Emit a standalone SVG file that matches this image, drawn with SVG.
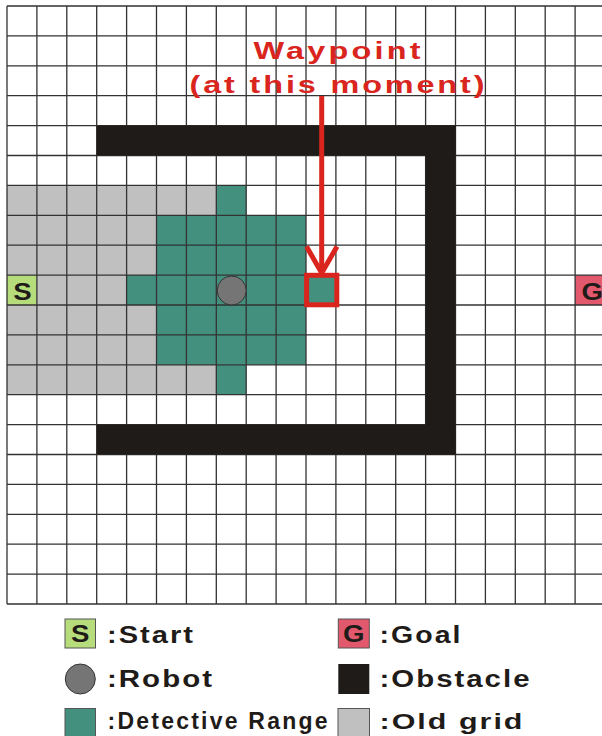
<svg xmlns="http://www.w3.org/2000/svg" width="602" height="736" viewBox="0 0 602 736">
<defs>
<style>
.gl{stroke:#333;stroke-width:1.3;fill:none}
.teal{fill:#43907f}
.old{fill:#c0c0c0}
.obs{fill:#1f1b18}
.start{fill:#b6dc7b}
.goal{fill:#e2586d}
.lbl{font-family:"Liberation Sans",Arial,sans-serif;font-weight:bold;font-size:23px;fill:#1f1b18}
.red{font-family:"Liberation Sans",Arial,sans-serif;font-weight:bold;font-size:24px;fill:#d9251d}
.lbox{stroke:#555;stroke-width:1}
</style>
</defs>
<rect x="0" y="0" width="602" height="736" fill="#fff"/>
<g id="old-grid">
<rect class="old" x="7" y="185.4" width="209.3" height="209.3"/>
</g>
<g id="detective-range">
<rect class="teal" x="216.3" y="185.4" width="29.9" height="29.9"/>
<rect class="teal" x="156.5" y="215.3" width="149.5" height="59.8"/>
<rect class="teal" x="126.6" y="275.1" width="209.3" height="29.9"/>
<rect class="teal" x="156.5" y="305" width="149.5" height="59.8"/>
<rect class="teal" x="216.3" y="364.8" width="29.9" height="29.9"/>
</g>
<g id="start">
<rect class="start" x="7" y="275.1" width="29.9" height="29.9"/>
</g>
<g id="goal">
<rect class="goal" x="575.1" y="275.1" width="30" height="29.9"/>
</g>
<g id="grid-lines">
<path class="gl" d="M7 6V604M36.9 6V604M66.8 6V604M96.7 6V604M126.6 6V604M156.5 6V604M186.4 6V604M216.3 6V604M246.2 6V604M276.1 6V604M306 6V604M335.9 6V604M365.8 6V604M395.7 6V604M425.6 6V604M455.5 6V604M485.4 6V604M515.3 6V604M545.2 6V604M575.1 6V604"/>
<path class="gl" d="M7 6H602M7 35.9H602M7 65.8H602M7 95.7H602M7 125.6H602M7 155.5H602M7 185.4H602M7 215.3H602M7 245.2H602M7 275.1H602M7 305H602M7 334.9H602M7 364.8H602M7 394.7H602M7 424.6H602M7 454.5H602M7 484.4H602M7 514.3H602M7 544.2H602M7 574.1H602M7 604H602"/>
</g>
<g id="start-label"><text class="lbl" transform="translate(22.5,300) scale(1.2,1)" text-anchor="middle">S</text></g>
<g id="goal-label"><text class="lbl" transform="translate(581.5,300) scale(1.2,1)">G</text></g>
<g id="obstacle">
<rect class="obs" x="96.7" y="125.6" width="358.8" height="29.9"/>
<rect class="obs" x="425.6" y="125.6" width="29.9" height="328.9"/>
<rect class="obs" x="96.7" y="424.6" width="358.8" height="29.9"/>
</g>
<g id="robot">
<circle cx="231.7" cy="290.5" r="14.5" fill="#757575" stroke="#333" stroke-width="1"/>
</g>
<g id="waypoint">
<rect x="306.6" y="275.3" width="30.2" height="29.5" fill="none" stroke="#d9251d" stroke-width="5"/>
<text class="red" transform="translate(337,58.5) scale(1.35,1)" text-anchor="middle" textLength="123.7" lengthAdjust="spacing">Waypoint</text>
<text class="red" transform="translate(337,92.5) scale(1.35,1)" text-anchor="middle" textLength="218.5" lengthAdjust="spacing">(at this moment)</text>
</g>
<g id="connectors">
<line x1="321.7" y1="96" x2="321.7" y2="272" stroke="#d9251d" stroke-width="5"/>
<polyline points="306.5,246.5 321.7,273 337,246.5" fill="none" stroke="#d9251d" stroke-width="5" stroke-linejoin="miter"/>
</g>
<g id="legend">
<g id="legend-start">
<rect class="start lbox" x="65" y="619" width="30.5" height="29"/>
<text class="lbl" transform="translate(80.3,642) scale(1.2,1)" text-anchor="middle">S</text>
<text class="lbl" transform="translate(107,642.7) scale(1.266,1)" textLength="67.9" lengthAdjust="spacing">:Start</text>
</g>
<g id="legend-goal">
<rect class="goal lbox" x="338.3" y="619" width="31" height="29"/>
<text class="lbl" transform="translate(353.8,642) scale(1.2,1)" text-anchor="middle">G</text>
<text class="lbl" transform="translate(379.5,642.7) scale(1.24,1)" textLength="65.3" lengthAdjust="spacing">:Goal</text>
</g>
<g id="legend-robot">
<circle cx="80.3" cy="679" r="15" fill="#757575" stroke="#333" stroke-width="1"/>
<text class="lbl" transform="translate(107,686.7) scale(1.282,1)" textLength="81.9" lengthAdjust="spacing">:Robot</text>
</g>
<g id="legend-obstacle">
<rect class="obs" x="338.3" y="664" width="31" height="30"/>
<text class="lbl" transform="translate(379.5,686.7) scale(1.28,1)" textLength="117.2" lengthAdjust="spacing">:Obstacle</text>
</g>
<g id="legend-detective">
<rect class="teal lbox" x="65" y="708.5" width="30.5" height="29"/>
<text class="lbl" x="107.5" y="728.5" textLength="220" lengthAdjust="spacing">:Detective Range</text>
</g>
<g id="legend-old">
<rect class="old lbox" x="338" y="708.5" width="31.5" height="29"/>
<text class="lbl" transform="translate(379.5,728.5) scale(1.325,1)" textLength="107.9" lengthAdjust="spacing">:Old grid</text>
</g>
</g>
</svg>
